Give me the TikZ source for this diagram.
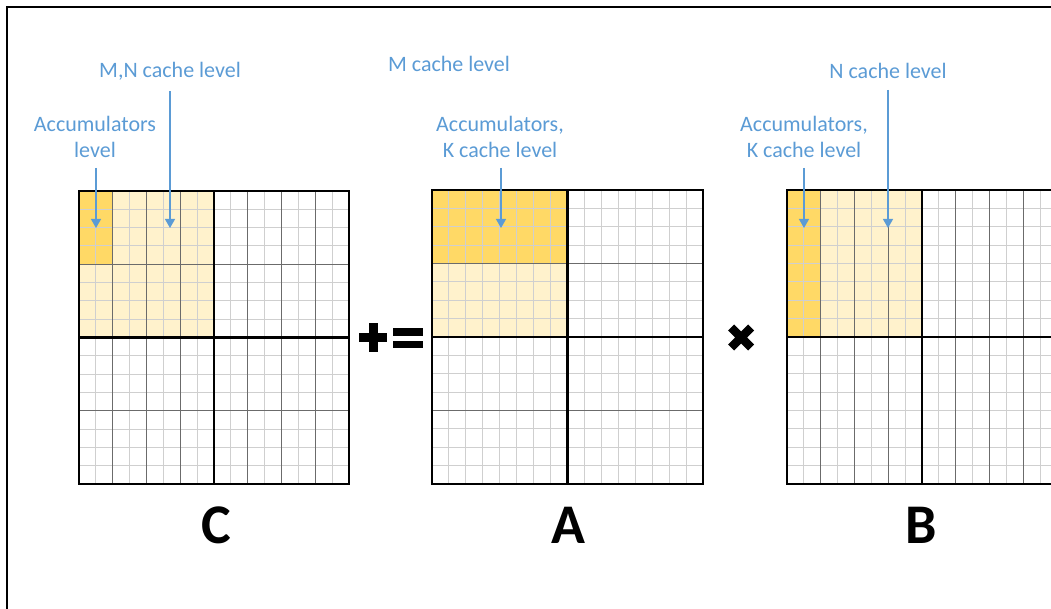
\documentclass[tikz,border=0pt]{standalone}
\usepackage{fontspec}
\setmainfont{Carlito}
\usepackage{tikz}
\usetikzlibrary{arrows.meta}

\definecolor{lblblue}{HTML}{5B9BD5}
\definecolor{accgold}{HTML}{FFD966}
\definecolor{cachecream}{HTML}{FFF2CC}

\tikzset{
  frame/.style={line width=1.8pt, black},
  fineline/.style={line width=0.9pt, black!19},
  midline/.style={line width=1.2pt, black!58},
  thickline/.style={line width=2.3pt, black},
  acctile/.style={fill=accgold},
  cachetile/.style={fill=cachecream},
  lbl/.style={text=lblblue, font=\fontsize{22}{26}\selectfont, align=center, inner sep=2pt},
  pointer/.style={draw=lblblue, line width=1.2pt, -{Triangle[width=10pt,length=9pt]}},
  matname/.style={font=\fontsize{56}{60}\selectfont\bfseries, inner sep=0pt},
  opbar/.style={fill=black}
}

\begin{document}
\begin{tikzpicture}[x=1pt,y=-1pt]
  \useasboundingbox (0,0) rectangle (1051,609);
  \clip (0,0) rectangle (1051,609);

  % Frame (only top and left edges are in view)
  \draw[frame] (7,620) -- (7,7) -- (1060,7);

  % Matrix C
  \begin{scope}[shift={(79,191)}, x=16.875pt, y=-18.3125pt]
    \fill[cachetile] (0,0) rectangle (8,8);
    \fill[acctile] (0,0) rectangle (2,4);
    \foreach \i in {1,...,15} {
      \draw[fineline] (\i,0) -- (\i,16);
      \draw[fineline] (0,\i) -- (16,\i);
    }
    \foreach \i in {2,4,6,10,12,14}
      \draw[midline] (\i,0) -- (\i,16);
    \foreach \j in {4,12}
      \draw[midline] (0,\j) -- (16,\j);
    \draw[thickline] (0,0) rectangle (16,16) (8,0) -- (8,16) (0,8) -- (16,8);
  \end{scope}

  % Matrix A
  \begin{scope}[shift={(432,190)}, x=16.9375pt, y=-18.375pt]
    \fill[cachetile] (0,4) rectangle (8,8);
    \fill[acctile] (0,0) rectangle (8,4);
    \foreach \i in {1,...,15} {
      \draw[fineline] (\i,0) -- (\i,16);
      \draw[fineline] (0,\i) -- (16,\i);
    }
    \foreach \j in {4,12}
      \draw[midline] (0,\j) -- (16,\j);
    \draw[thickline] (0,0) rectangle (16,16) (8,0) -- (8,16) (0,8) -- (16,8);
  \end{scope}

  % Matrix B
  \begin{scope}[shift={(787,190)}, x=16.875pt, y=-18.375pt]
    \fill[cachetile] (2,0) rectangle (8,8);
    \fill[acctile] (0,0) rectangle (2,8);
    \foreach \i in {1,...,15} {
      \draw[fineline] (\i,0) -- (\i,16);
      \draw[fineline] (0,\i) -- (16,\i);
    }
    \foreach \i in {2,4,6,10,12,14}
      \draw[midline] (\i,0) -- (\i,16);
    \draw[thickline] (0,0) rectangle (16,16) (8,0) -- (8,16) (0,8) -- (16,8);
  \end{scope}

  % Operators
  \fill[opbar] (359,333) rectangle (387,342);
  \fill[opbar] (368.5,323) rectangle (377.5,352);
  \fill[opbar] (393,328) rectangle (423,336);
  \fill[opbar] (393,341) rectangle (423,348);
  \draw[line width=8.5pt] (731,327.5) -- (751,347.5) (731,347.5) -- (751,327.5);

  % Level labels
  \node[lbl] (cAcc) at (95,137) {Accumulators\\level};
  \node[lbl] (cMN) at (170,71) {M,N cache level};
  \node[lbl] (aM) at (449,64) {M cache level};
  \node[lbl] (aAcc) at (500,137) {Accumulators,\\K cache level};
  \node[lbl] (bAcc) at (804,137) {Accumulators,\\K cache level};
  \node[lbl] (bN) at (888,71) {N cache level};

  % Arrow targets
  \coordinate (cAccTip) at (96,228);
  \coordinate (cMNTip) at (170,228);
  \coordinate (aAccTip) at (501,228);
  \coordinate (bAccTip) at (804,228);
  \coordinate (bNTip) at (888,228);

  \draw[pointer] (cAcc.south -| cAccTip) ++(0,8) -- (cAccTip);
  \draw[pointer] (cMN.south) ++(0,9) -- (cMNTip);
  \draw[pointer] (aAcc.south -| aAccTip) ++(0,8) -- (aAccTip);
  \draw[pointer] (bAcc.south) ++(0,8) -- (bAccTip);
  \draw[pointer] (bN.south) ++(0,9) -- (bNTip);

  % Matrix names
  \node[matname] (cName) at (216,525) {C};
  \node[matname] (aName) at (568,525) {A};
  \node[matname] (bName) at (921,525) {B};
\end{tikzpicture}
\end{document}
